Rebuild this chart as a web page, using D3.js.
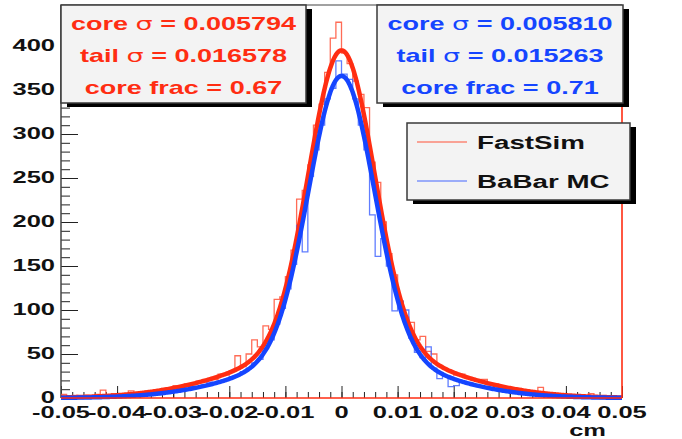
<!doctype html>
<html>
<head>
<meta charset="utf-8">
<title>FastSim vs BaBar MC</title>
<script src="https://cdn.jsdelivr.net/npm/d3@7"></script>
<style>
  body { margin: 0; background: #fff; }
  svg { display: block; }
  text { font-family: "Liberation Sans", Arial, Helvetica, sans-serif; font-weight: bold; }
</style>
</head>
<body>
<svg id="chart" width="682" height="439"></svg>
<script>
// histogram binning: 100 bins from -0.05 to 0.05 cm
var binLow = -0.05;
var binWidth = 0.001;

// bin contents, left to right
var fastSimCounts = [
  4, 2, 3, 1, 3, 2, 4, 9, 3, 5,
  3, 4, 8, 5, 6, 8, 7, 9, 11, 10,
  14, 12, 16, 15, 19, 18, 22, 21, 27, 26,
  31, 48, 36, 50, 66, 58, 82, 78, 112, 115,
  138, 168, 226, 236, 265, 310, 334, 370, 409, 427,
  392, 380, 360, 345, 330, 268, 245, 200, 164, 140,
  110, 92, 86, 66, 70, 53, 50, 37, 33, 30,
  26, 27, 22, 21, 20, 21, 15, 16, 13, 12,
  10, 11, 8, 7, 6, 12, 5, 4, 5, 3,
  3, 2, 3, 1, 5, 2, 1, 2, 1, 1
];
var babarCounts = [
  1, 0, 1, 0, 1, 1, 2, 1, 1, 2,
  1, 3, 2, 3, 4, 3, 5, 4, 6, 7,
  8, 9, 14, 13, 12, 15, 18, 17, 19, 21,
  24, 26, 30, 34, 40, 44, 56, 66, 84, 102,
  124, 152, 196, 166, 252, 282, 310, 340, 352, 383,
  368, 362, 340, 310, 282, 208, 161, 181, 150, 99,
  110, 100, 68, 52, 46, 58, 34, 22, 25, 13,
  14, 18, 16, 15, 13, 12, 10, 9, 8, 7,
  6, 6, 9, 4, 3, 4, 3, 2, 2, 2,
  1, 2, 1, 1, 0, 1, 0, 1, 0, 0
];

// double gaussian fit results shown in the stat boxes
var seriesNames = ['FastSim', 'BaBar MC'];
var coreSigma = [0.005794, 0.005810];
var tailSigma = [0.016578, 0.015263];
var coreFrac = [0.67, 0.71];
var fitPeak = [395, 366];

var xTicks = [-0.05, -0.04, -0.03, -0.02, -0.01, 0, 0.01, 0.02, 0.03, 0.04, 0.05];
var xTickLabels = ['-0.05', '-0.04', '-0.03', '-0.02', '-0.01', '0', '0.01', '0.02', '0.03', '0.04', '0.05'];
var yTicks = [0, 50, 100, 150, 200, 250, 300, 350, 400];

var colors = ['#ff2d12', '#1545ff'];
var histColors = ['#ff5238', '#4466ff'];
var sx = 1.5; // the picture's lettering is stretched sideways

var svg = d3.select('#chart');
var plotL = 61, plotR = 622, plotT = 5, plotB = 398;

var x = d3.scaleLinear().domain([-0.05, 0.05]).range([plotL, plotR]);
var y = d3.scaleLinear().domain([0, 446.6]).range([plotB, plotT]);

function label(g, px, py, str, size, anchor, color) {
  return g.append('text')
    .attr('transform', 'translate(' + px + ',' + py + ') scale(' + sx + ',1)')
    .attr('text-anchor', anchor)
    .style('font-size', size + 'px')
    .attr('fill', color)
    .text(str);
}

// axes
var minorX = d3.range(-50, 51, 2).map(function (d) { return d / 1000; });
var minorY = d3.range(0, 441, 10);

function tidy(g) {
  g.select('.domain').remove();
  g.selectAll('line').attr('stroke', '#222');
}

svg.append('g')
  .attr('transform', 'translate(0,' + plotB + ')')
  .call(d3.axisBottom(x).tickValues(minorX).tickSize(-6).tickFormat(''))
  .call(tidy);
svg.append('g')
  .attr('transform', 'translate(0,' + plotB + ')')
  .call(d3.axisBottom(x).tickValues(xTicks).tickSize(-12).tickFormat(''))
  .call(tidy);

svg.append('g')
  .attr('transform', 'translate(' + plotL + ',0)')
  .call(d3.axisLeft(y).tickValues(minorY).tickSize(-9).tickFormat(''))
  .call(tidy);
svg.append('g')
  .attr('transform', 'translate(' + plotL + ',0)')
  .call(d3.axisLeft(y).tickValues(yTicks).tickSize(-17).tickFormat(''))
  .call(tidy);

var labels = svg.append('g');
yTicks.forEach(function (v) {
  label(labels, 55, y(v) + 5, String(v), 17, 'end', '#111');
});
xTicks.forEach(function (v, i) {
  label(labels, x(v), 418, xTickLabels[i], 17, 'middle', '#111');
});
label(labels, 606, 436, 'cm', 17, 'end', '#111');

// frame
svg.append('line').attr('x1', plotL).attr('x2', plotR).attr('y1', plotT).attr('y2', plotT)
  .attr('stroke', '#444').attr('stroke-width', 1.2);
svg.append('line').attr('x1', plotL).attr('x2', plotL).attr('y1', plotT).attr('y2', plotB)
  .attr('stroke', '#444').attr('stroke-width', 1.5);

// histograms
var edges = d3.range(101).map(function (i) { return binLow + i * binWidth; });
function stepPoints(counts) {
  var pts = counts.map(function (c, i) { return [edges[i], c]; });
  pts.push([edges[100], counts[counts.length - 1]]);
  return pts;
}
var step = d3.line()
  .x(function (d) { return x(d[0]); })
  .y(function (d) { return y(d[1]); })
  .curve(d3.curveStepAfter);

[fastSimCounts, babarCounts].forEach(function (counts, k) {
  svg.append('path')
    .attr('d', step(stepPoints(counts)))
    .attr('fill', 'none')
    .attr('stroke', histColors[k])
    .attr('stroke-width', 1.3)
    .attr('opacity', 0.85);
});

// fitted double gaussians
var xs = d3.range(0, 501).map(function (i) { return -0.05 + i * 0.0002; });
var curve = d3.line()
  .x(function (d) { return x(d[0]); })
  .y(function (d) { return y(d[1]); });

seriesNames.forEach(function (name, k) {
  var wc = coreFrac[k] / coreSigma[k];
  var wt = (1 - coreFrac[k]) / tailSigma[k];
  var pts = xs.map(function (v) {
    var g = wc * Math.exp(-v * v / (2 * coreSigma[k] * coreSigma[k])) +
            wt * Math.exp(-v * v / (2 * tailSigma[k] * tailSigma[k]));
    return [v, fitPeak[k] * g / (wc + wt)];
  });
  svg.append('path')
    .attr('d', curve(pts))
    .attr('fill', 'none')
    .attr('stroke', colors[k])
    .attr('stroke-width', 4.5)
    .attr('stroke-linejoin', 'round');
});

// right and bottom edges, drawn red
svg.append('line').attr('x1', plotR).attr('x2', plotR).attr('y1', plotT).attr('y2', plotB)
  .attr('stroke', '#ff2d12').attr('stroke-width', 1.6);
svg.append('line').attr('x1', plotL).attr('x2', plotR).attr('y1', plotB).attr('y2', plotB)
  .attr('stroke', '#ff2d12').attr('stroke-width', 1.6);

// boxes with shadows
function box(x0, y0, x1, y1) {
  svg.append('rect').attr('x', x0 + 6).attr('y', y0 + 4)
    .attr('width', x1 - x0).attr('height', y1 - y0).attr('fill', '#000');
  svg.append('rect').attr('x', x0).attr('y', y0)
    .attr('width', x1 - x0).attr('height', y1 - y0)
    .attr('fill', '#f3f3f3').attr('stroke', '#3a3a3a').attr('stroke-width', 1.5);
}

var statBoxes = [[61, 5, 306, 103], [377, 5, 623, 103]];
statBoxes.forEach(function (b, k) {
  box(b[0], b[1], b[2], b[3]);
  var cx = (b[0] + b[2]) / 2;
  var lines = [
    ['core ', '\u03c3', ' = ' + coreSigma[k].toFixed(6)],
    ['tail ', '\u03c3', ' = ' + tailSigma[k].toFixed(6)],
    ['core frac = ' + coreFrac[k].toFixed(2)]
  ];
  lines.forEach(function (parts, j) {
    var t = label(svg, cx, 29.5 + j * 32, '', 18, 'middle', colors[k]);
    parts.forEach(function (p) {
      var ts = t.append('tspan').text(p);
      if (p === '\u03c3') ts.style('font-weight', 'normal').style('font-family', '"DejaVu Sans", sans-serif');
    });
  });
});

// legend
box(407, 123, 630, 200);
seriesNames.forEach(function (name, k) {
  var ly = 142 + k * 39;
  svg.append('line').attr('x1', 417).attr('x2', 467).attr('y1', ly).attr('y2', ly)
    .attr('stroke', histColors[k]).attr('stroke-width', 1.2);
  label(svg, 477, ly + 6.5, name, 18.5, 'start', '#111');
});
</script>
</body>
</html>
